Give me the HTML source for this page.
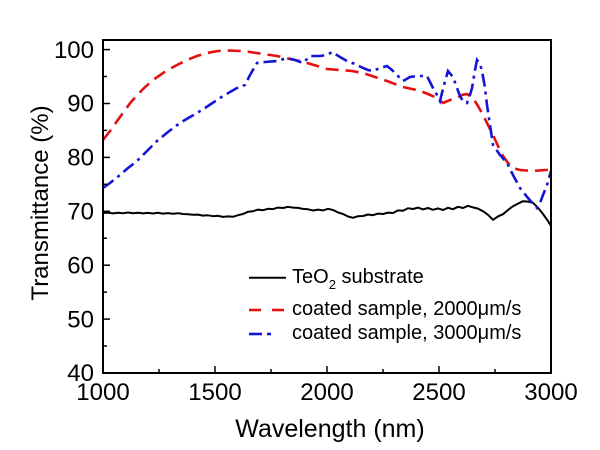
<!DOCTYPE html>
<html><head><meta charset="utf-8"><style>
html,body{margin:0;padding:0;background:#fff;}
svg{display:block;}
text{font-family:"Liberation Sans",Arial,sans-serif;fill:#000;}
</style></head><body>
<svg width="600" height="450" viewBox="0 0 600 450" xmlns="http://www.w3.org/2000/svg">
<rect width="600" height="450" fill="#fff"/>
<!-- black substrate -->
<polyline fill="none" stroke="#000" stroke-width="2" stroke-linejoin="round" points="103,213 108,212.6 113,213.4 118,212.8 123,213.3 128,212.5 133,213.2 138,212.7 143,213.4 148,212.9 153,213.5 158,212.8 163,213.6 168,213.1 173,213.7 178,213.2 183,214 188,214.2 193,214.8 198,214.6 203,215.6 208,215.3 213,216.2 218,215.8 223,216.9 228,216.4 233,216.8 238,215.2 243,214 248,211.8 253,211.2 258,209.6 263,210.2 268,208.8 273,209.1 278,207.6 283,208 288,206.8 293,207.6 298,207.9 303,208.9 308,209.3 313,210.5 318,209.6 323,210.4 328,208.8 333,210 338,212.4 343,214 348,216.5 353,217.8 358,216.2 363,216 368,214.5 373,215.2 378,213.6 383,214 388,212.6 393,213 398,210.4 403,210.8 408,208.2 413,209 418,207.6 423,209.4 428,208 433,209.8 438,208.4 443,210 448,207.8 453,209.2 458,206.8 463,208 468,205.8 473,207.4 478,208.6 483,211.2 488,214.8 493,219.8 498,216.4 503,214.2 508,210 513,206.2 518,203.6 523,201.2 528,201.6 533,202.8 538,207.8 543,214 548,221 551,226"/>
<!-- red dashed -->
<polyline fill="none" stroke="#e41010" stroke-width="2.6" stroke-dasharray="13,7" points="103,140 110,131 120,117 131,102 143,89 153,80 163,73 175,66 187,60 197,56 207,53 218,51 230,50.5 240,51 250,52 263,54 277,56 290,59 300,61 314,65 327,69 340,70 352,71 363,73 375,77 387,81 395,84 403,87 412,89 420,91 428,94 437,98 443,103 450,100 457,98 462,95 467,94 473,98 478,106 483,115 488,125 493,135 498,146 503,156 508,163 513,168 520,170 533,171 545,170 551,170"/>
<!-- blue dash-dot -->
<polyline fill="none" stroke="#1414d8" stroke-width="2.6" stroke-dasharray="13,5,3,5" points="103,188 110,183 120,175 128,168 137,161 147,151 157,141 168,132 180,123 190,117 197,113 208,106 220,98 230,92 237,88 245,85 250,75 257,63 265,62 277,61 287,58 295,60 303,63 310,56 320,56 327,55 332,52 340,57 347,61 355,64 363,68 368,70 373,71 380,68 387,66 392,70 397,75 403,81 410,77 418,76 427,76 430,82 433,88 437,95 440,101 444,85 448,71 453,77 457,88 460,96 463,101 467,103 470,95 472,88 475,70 477,60 480,64 482,71 485,88 487,105 490,125 493,145 500,155 507,163 513,175 520,188 528,198 537,208 540,203 543,195 547,185 551,171"/>
<!-- frame -->
<rect x="103" y="40" width="448" height="333" fill="none" stroke="#000" stroke-width="2"/>
<!-- x ticks -->
<g stroke="#000" stroke-width="1.5">
<line x1="103" y1="373" x2="103" y2="366"/>
<line x1="215" y1="373" x2="215" y2="366"/>
<line x1="327" y1="373" x2="327" y2="366"/>
<line x1="439" y1="373" x2="439" y2="366"/>
<line x1="551" y1="373" x2="551" y2="366"/>
<line x1="159" y1="373" x2="159" y2="369"/>
<line x1="271" y1="373" x2="271" y2="369"/>
<line x1="383" y1="373" x2="383" y2="369"/>
<line x1="495" y1="373" x2="495" y2="369"/>
<!-- y ticks -->
<line x1="103" y1="373" x2="110" y2="373"/>
<line x1="103" y1="319.1" x2="110" y2="319.1"/>
<line x1="103" y1="265.2" x2="110" y2="265.2"/>
<line x1="103" y1="211.3" x2="110" y2="211.3"/>
<line x1="103" y1="157.4" x2="110" y2="157.4"/>
<line x1="103" y1="103.5" x2="110" y2="103.5"/>
<line x1="103" y1="49.6" x2="110" y2="49.6"/>
<line x1="103" y1="346" x2="107" y2="346"/>
<line x1="103" y1="292.1" x2="107" y2="292.1"/>
<line x1="103" y1="238.2" x2="107" y2="238.2"/>
<line x1="103" y1="184.3" x2="107" y2="184.3"/>
<line x1="103" y1="130.4" x2="107" y2="130.4"/>
<line x1="103" y1="76.5" x2="107" y2="76.5"/>
</g>
<!-- tick labels -->
<g font-size="24" text-anchor="middle">
<text x="103" y="400">1000</text>
<text x="215" y="400">1500</text>
<text x="327" y="400">2000</text>
<text x="439" y="400">2500</text>
<text x="551" y="400">3000</text>
</g>
<g font-size="24" text-anchor="end">
<text x="94" y="381">40</text>
<text x="94" y="327.5">50</text>
<text x="94" y="273.5">60</text>
<text x="94" y="219.5">70</text>
<text x="94" y="165.5">80</text>
<text x="94" y="111.5">90</text>
<text x="94" y="58">100</text>
</g>
<!-- axis titles -->
<text x="330" y="437" font-size="25" text-anchor="middle">Wavelength (nm)</text>
<text transform="translate(48,203) rotate(-90)" font-size="24" text-anchor="middle">Transmittance (%)</text>
<!-- legend -->
<line x1="249" y1="277.7" x2="286" y2="277.7" stroke="#000" stroke-width="2"/>
<text x="292" y="283" font-size="20">TeO<tspan font-size="13" dy="6">2</tspan><tspan dy="-6"> substrate</tspan></text>
<line x1="249" y1="310" x2="261" y2="310" stroke="#e41010" stroke-width="2.6"/>
<line x1="272" y1="310" x2="284" y2="310" stroke="#e41010" stroke-width="2.6"/>
<text x="292" y="315" font-size="20">coated sample, 2000μm/s</text>
<line x1="249" y1="334" x2="262" y2="334" stroke="#1414d8" stroke-width="2.6"/>
<line x1="267" y1="334" x2="271" y2="334" stroke="#1414d8" stroke-width="2.6"/>
<text x="292" y="339" font-size="20">coated sample, 3000μm/s</text>
</svg>
</body></html>
